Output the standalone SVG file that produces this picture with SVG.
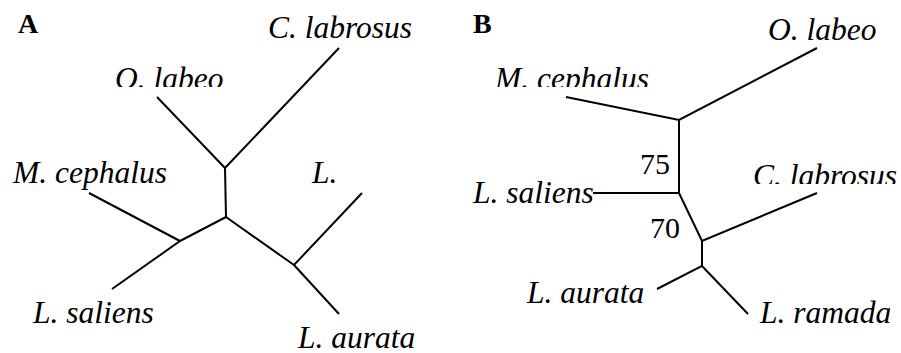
<svg xmlns="http://www.w3.org/2000/svg" width="901" height="353" viewBox="0 0 901 353">
<style>
text{font-family:'Liberation Serif','Times New Roman',serif;fill:#000}
.lbl{font-style:italic;font-size:31.5px}
.num{font-size:30px}
.pan{font-weight:bold;font-size:28px}
.br{stroke:#000;stroke-width:2;fill:none;stroke-linecap:butt;stroke-linejoin:miter}
</style>
<defs>
<clipPath id="clipA1"><rect x="100" y="50" width="150" height="37"/></clipPath>
<clipPath id="clipB1"><rect x="480" y="50" width="200" height="37"/></clipPath>
<clipPath id="clipB2"><rect x="740" y="150" width="161" height="34"/></clipPath>
</defs>
<rect width="901" height="353" fill="#fff"/>
<text class="pan" x="18" y="33">A</text>
<text class="pan" x="473" y="33">B</text>
<g id="connectors">
<polyline class="br" points="157,97 225,168 339,48"/>
<polyline class="br" points="225,168 226,217"/>
<polyline class="br" points="226,217 180,241 89,193"/>
<polyline class="br" points="180,241 112,289"/>
<polyline class="br" points="226,217 294,265 362,193"/>
<polyline class="br" points="294,265 339,314"/>
<polyline class="br" points="566,97 679,120 817,48"/>
<polyline class="br" points="679,120 679,193 593,193"/>
<polyline class="br" points="679,193 702,241 817,193"/>
<polyline class="br" points="702,241 702,266 657,289"/>
<polyline class="br" points="702,266 748,314"/>
</g>
<g id="A-C-labrosus"><text class="lbl" x="268" y="38">C. labrosus</text></g>
<g id="A-O-labeo"><text class="lbl" x="115" y="89" clip-path="url(#clipA1)">O. labeo</text></g>
<g id="A-M-cephalus"><text class="lbl" x="13" y="183">M. cephalus</text></g>
<g id="A-L"><text class="lbl" x="312" y="183">L.</text></g>
<g id="A-L-saliens"><text class="lbl" x="33" y="323">L. saliens</text></g>
<g id="A-L-aurata"><text class="lbl" x="298" y="348">L. aurata</text></g>
<g id="B-O-labeo"><text class="lbl" x="768" y="40">O. labeo</text></g>
<g id="B-M-cephalus"><text class="lbl" x="495" y="89" clip-path="url(#clipB1)">M. cephalus</text></g>
<g id="B-C-labrosus"><text class="lbl" x="753" y="186" clip-path="url(#clipB2)">C. labrosus</text></g>
<g id="B-L-saliens"><text class="lbl" x="473" y="203">L. saliens</text></g>
<g id="B-L-aurata"><text class="lbl" x="527" y="303">L. aurata</text></g>
<g id="B-L-ramada"><text class="lbl" x="760" y="323">L. ramada</text></g>
<g id="B-75"><text class="num" x="640" y="174">75</text></g>
<g id="B-70"><text class="num" x="650" y="238">70</text></g>
</svg>
